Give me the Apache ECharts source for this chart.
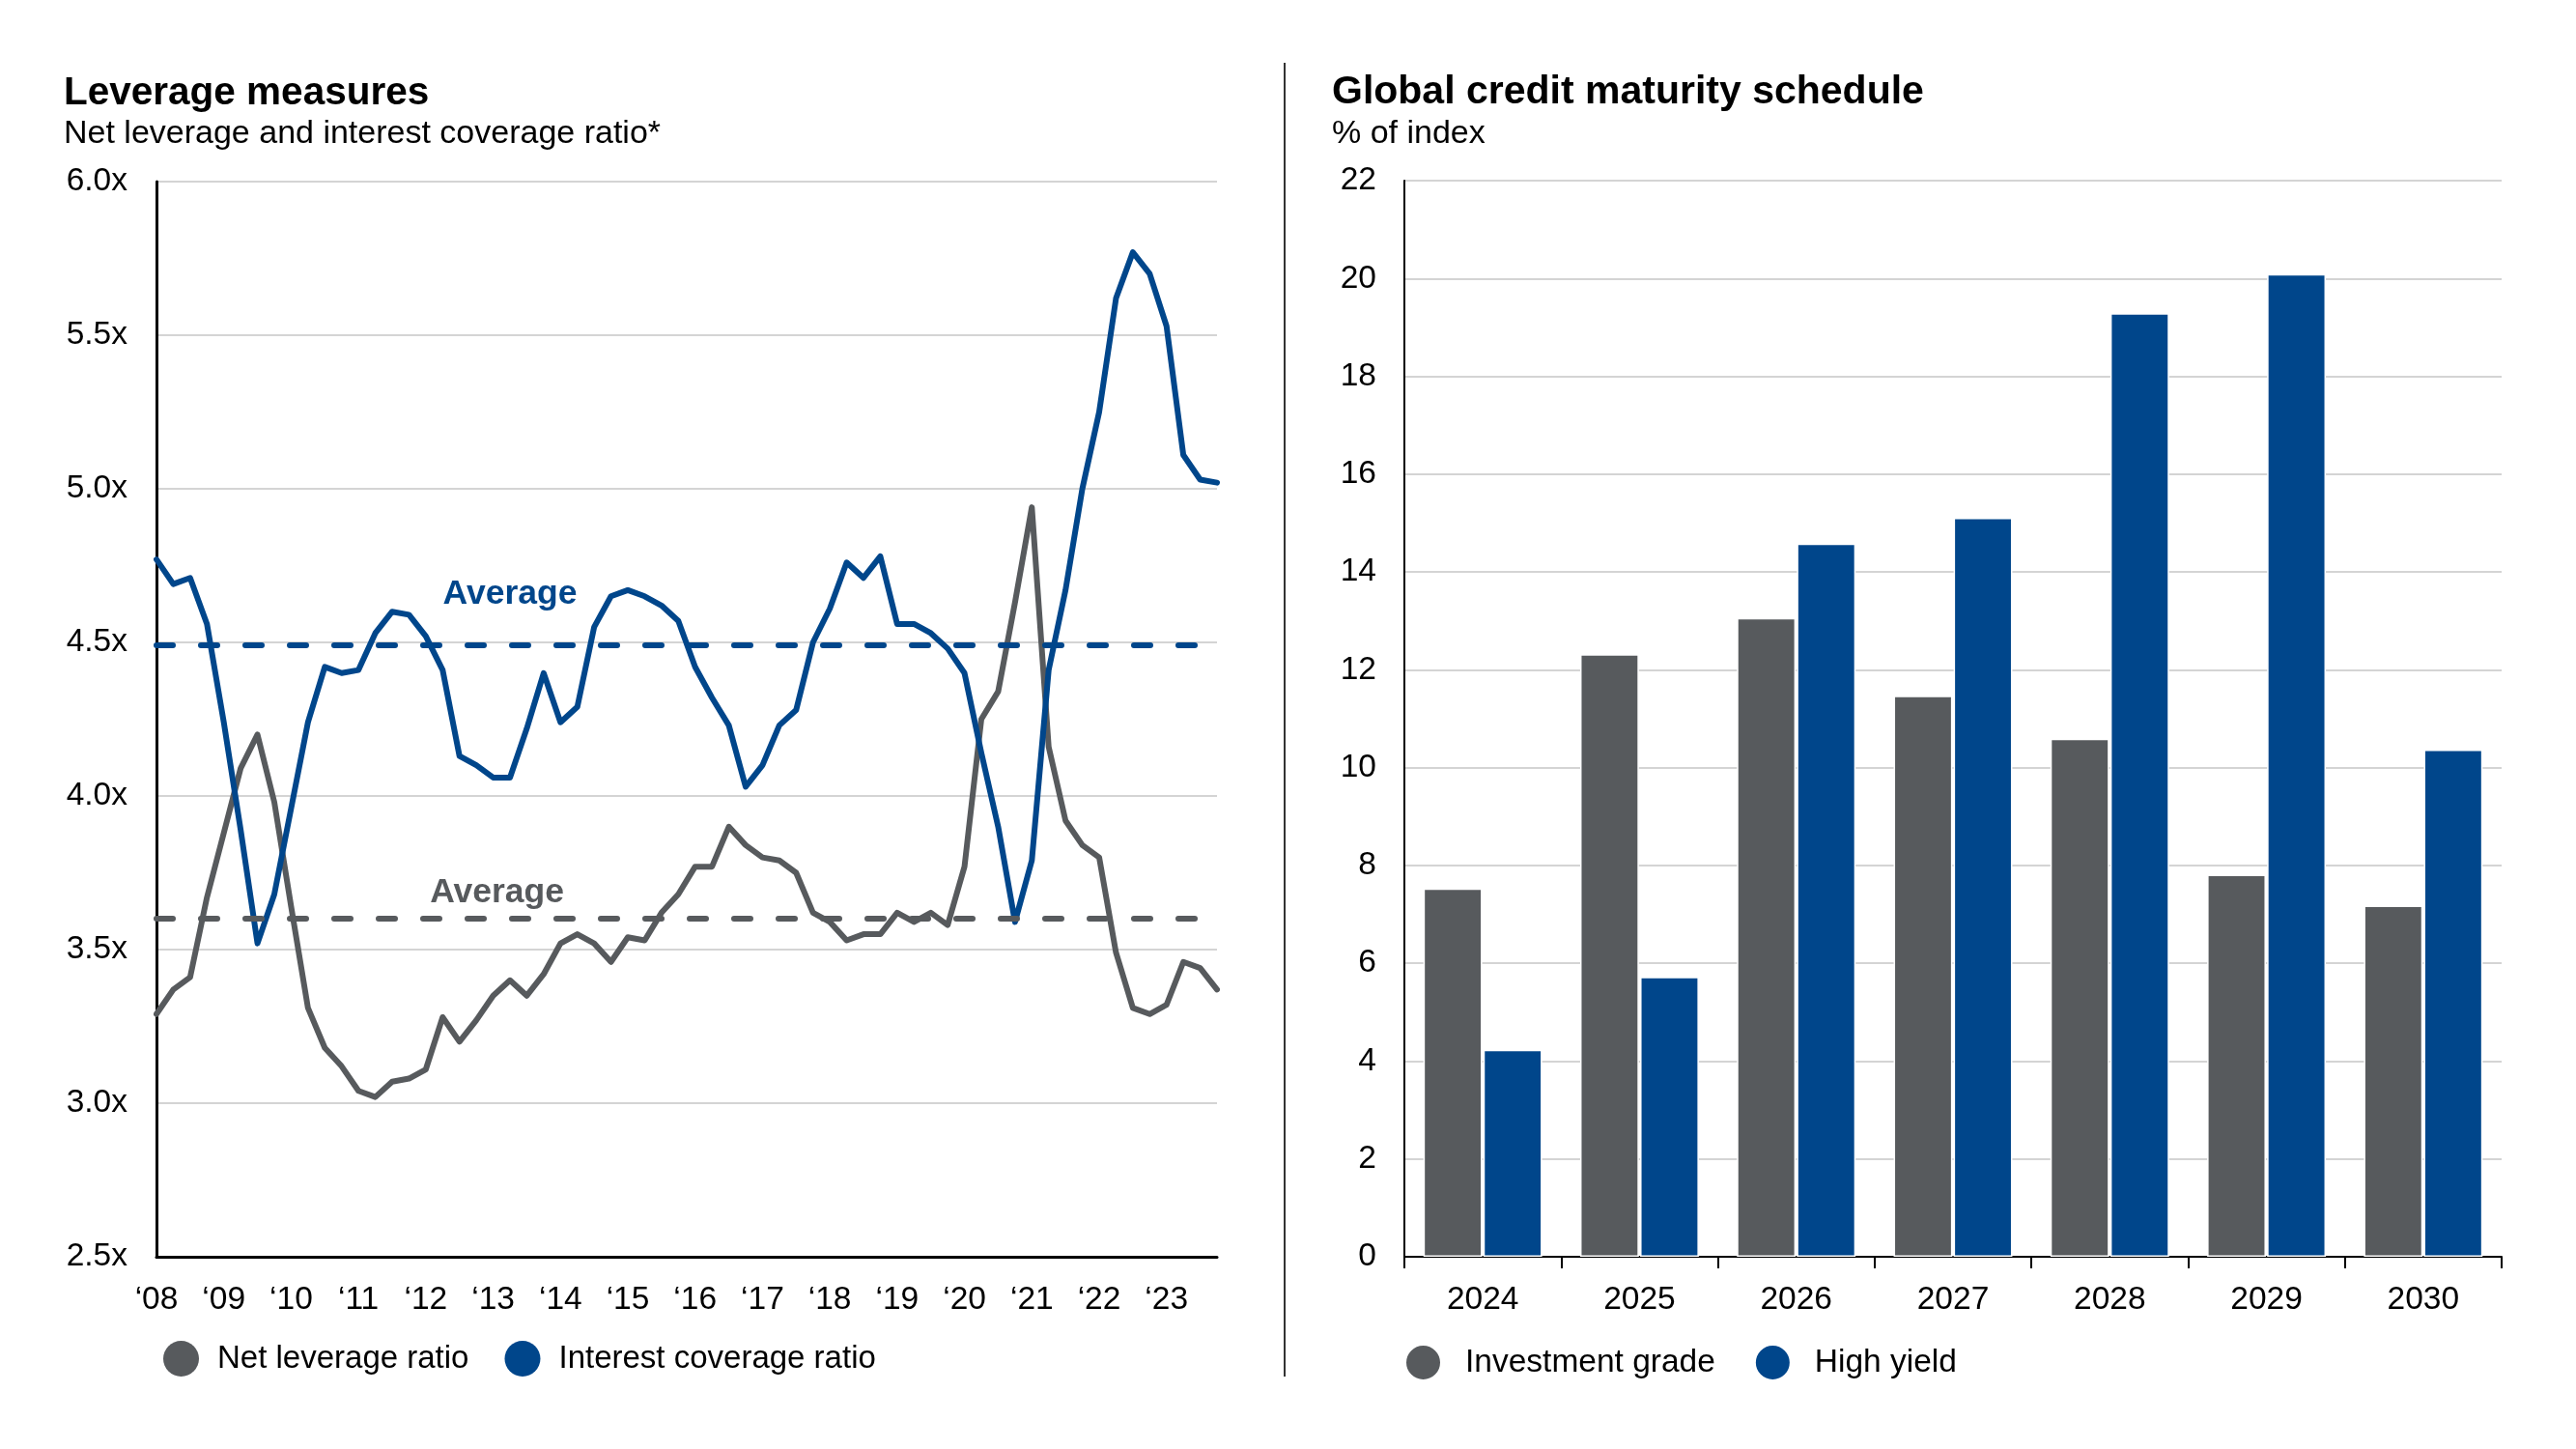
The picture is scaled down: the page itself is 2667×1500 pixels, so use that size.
<!DOCTYPE html>
<html>
<head>
<meta charset="utf-8">
<script src="https://cdn.jsdelivr.net/npm/echarts@6/dist/echarts.min.js"></script>
<style>
html,body{margin:0;padding:0;background:#fff;}
#chart{width:2667px;height:1500px;}
</style>
</head>
<body>
<div id="chart"></div>
<script>
// ---------- Data ----------
const years = [2008,2009,2010,2011,2012,2013,2014,2015,2016,2017,2018,2019,2020,2021,2022,2023];
const quarters = ['Q1','Q2','Q3','Q4'];
const yearTickLabels = ['\u201808','\u201809','\u201810','\u201811','\u201812','\u201813','\u201814','\u201815','\u201816','\u201817','\u201818','\u201819','\u201820','\u201821','\u201822','\u201823'];

const netLeverage = [
  3.29,3.37,3.41,3.67,3.88,4.09,4.20,3.98,3.64,3.31,3.18,3.12,3.04,3.02,3.07,3.08,
  3.11,3.28,3.20,3.27,3.35,3.40,3.35,3.42,3.52,3.55,3.52,3.46,3.54,3.53,3.62,3.68,
  3.77,3.77,3.90,3.84,3.80,3.79,3.75,3.62,3.59,3.53,3.55,3.55,3.62,3.59,3.62,3.58,
  3.77,4.25,4.34,4.63,4.94,4.16,3.92,3.84,3.80,3.49,3.31,3.29,3.32,3.46,3.44,3.37
];
const interestCoverage = [
  4.77,4.69,4.71,4.56,4.24,3.89,3.52,3.68,3.96,4.24,4.42,4.40,4.41,4.53,4.60,4.59,
  4.52,4.41,4.13,4.10,4.06,4.06,4.22,4.40,4.24,4.29,4.55,4.65,4.67,4.65,4.62,4.57,
  4.42,4.32,4.23,4.03,4.10,4.23,4.28,4.50,4.61,4.76,4.71,4.78,4.56,4.56,4.53,4.48,
  4.40,4.14,3.90,3.59,3.79,4.41,4.67,5.00,5.25,5.62,5.77,5.70,5.53,5.11,5.03,5.02
];
const netLeverageAverage = 3.60;
const interestCoverageAverage = 4.49;

const maturityYears = ['2024','2025','2026','2027','2028','2029','2030'];
const investmentGrade = [7.53,12.32,13.06,11.47,10.59,7.81,7.18];
const highYield = [4.23,5.72,14.58,15.11,19.29,20.09,10.37];

// ---------- Build ----------
const quarterCats = [];
years.forEach(y => quarters.forEach(q => quarterCats.push(y + ' ' + q)));

const FONT = 'Arial, "Liberation Sans", sans-serif';
const BLUE = '#00468B';
const GREY = '#575A5D';
const GRID = '#D4D4D4';

const chart = echarts.init(document.getElementById('chart'));
chart.setOption({
  animation: false,
  backgroundColor: '#fff',
  textStyle: { fontFamily: FONT },
  title: [
    { text: 'Leverage measures', left: 61, top: 71, textStyle: { fontFamily: FONT, fontSize: 40.5, fontWeight: 'bold', color: '#000' } },
    { text: 'Net leverage and interest coverage ratio*', left: 61, top: 117, textStyle: { fontFamily: FONT, fontSize: 34, fontWeight: 'normal', color: '#000' } },
    { text: 'Global credit maturity schedule', left: 1374, top: 70, textStyle: { fontFamily: FONT, fontSize: 41, fontWeight: 'bold', color: '#000' } },
    { text: '% of index', left: 1374, top: 117, textStyle: { fontFamily: FONT, fontSize: 34, fontWeight: 'normal', color: '#000' } }
  ],
  legend: [
    {
      data: ['Net leverage ratio', 'Interest coverage ratio'],
      left: 164, top: 1383, padding: 5,
      icon: 'circle', itemWidth: 37, itemHeight: 37, itemGap: 37,
      textStyle: { fontFamily: FONT, fontSize: 33, color: '#000', padding: [0,0,0,14] }
    },
    {
      data: ['Investment grade', 'High yield'],
      left: 1449, top: 1386, padding: 5,
      icon: 'circle', itemWidth: 37, itemHeight: 37, itemGap: 40,
      textStyle: { fontFamily: FONT, fontSize: 33.5, color: '#000', padding: [0,0,0,20] }
    }
  ],
  graphic: [
    { type: 'line', shape: { x1: 1330, y1: 65, x2: 1330, y2: 1425 }, style: { stroke: '#333', lineWidth: 2 } }
  ],
  grid: [
    { left: 162, right: 1407, top: 188, bottom: 199 },
    { left: 1454, right: 77, top: 187, bottom: 199 }
  ],
  xAxis: [
    {
      type: 'category', gridIndex: 0, data: quarterCats, boundaryGap: false,
      axisLine: { lineStyle: { color: '#000', width: 3 } },
      axisTick: { show: false },
      axisLabel: {
        interval: 3, margin: 28, fontSize: 33.5, color: '#000', fontFamily: FONT,
        formatter: (v, i) => yearTickLabels[Math.floor(i / 4)]
      },
      splitLine: { show: false }
    },
    {
      type: 'category', gridIndex: 1, data: maturityYears,
      axisLine: { lineStyle: { color: '#000', width: 2 } },
      axisTick: { show: true, length: 12, lineStyle: { color: '#000', width: 2 } },
      axisLabel: { margin: 28, fontSize: 33.5, color: '#000', fontFamily: FONT }
    }
  ],
  yAxis: [
    {
      type: 'value', gridIndex: 0, min: 2.5, max: 6.0, interval: 0.5,
      axisLine: { show: true, lineStyle: { color: '#000', width: 3 } },
      axisTick: { show: false },
      axisLabel: { margin: 30, fontSize: 33.5, color: '#000', fontFamily: FONT, formatter: v => v.toFixed(1) + 'x' },
      splitLine: { lineStyle: { color: GRID, width: 2 } }
    },
    {
      type: 'value', gridIndex: 1, min: 0, max: 22, interval: 2,
      axisLine: { show: true, lineStyle: { color: '#000', width: 2 } },
      axisTick: { show: false },
      axisLabel: { margin: 29, fontSize: 33.5, color: '#000', fontFamily: FONT },
      splitLine: { lineStyle: { color: GRID, width: 2 } }
    }
  ],
  series: [
    {
      name: 'Net leverage ratio', type: 'line', xAxisIndex: 0, yAxisIndex: 0,
      data: netLeverage, symbol: 'none', color: GREY,
      lineStyle: { color: GREY, width: 6, join: 'round', cap: 'round' },
      markLine: {
        silent: true, symbol: 'none',
        lineStyle: { color: GREY, width: 6, type: [17, 29], cap: 'round' },
        label: { show: false },
        data: [{ yAxis: netLeverageAverage }]
      },
      markPoint: {
        silent: true, symbol: 'circle', symbolSize: 0,
        label: { show: true, position: 'inside', formatter: 'Average', color: GREY, fontSize: 35.5, fontWeight: 'bold', fontFamily: FONT, offset: [4, 5] },
        data: [{ coord: [20, 3.70] }]
      },
      z: 3
    },
    {
      name: 'Interest coverage ratio', type: 'line', xAxisIndex: 0, yAxisIndex: 0,
      data: interestCoverage, symbol: 'none', color: BLUE,
      lineStyle: { color: BLUE, width: 6, join: 'round', cap: 'round' },
      markLine: {
        silent: true, symbol: 'none',
        lineStyle: { color: BLUE, width: 6, type: [17, 29], cap: 'round' },
        label: { show: false },
        data: [{ yAxis: interestCoverageAverage }]
      },
      markPoint: {
        silent: true, symbol: 'circle', symbolSize: 0,
        label: { show: true, position: 'inside', formatter: 'Average', color: BLUE, fontSize: 35.5, fontWeight: 'bold', fontFamily: FONT, offset: [0, 4] },
        data: [{ coord: [21, 4.67] }]
      },
      z: 4
    },
    {
      name: 'Investment grade', type: 'bar', xAxisIndex: 1, yAxisIndex: 1,
      data: investmentGrade, color: GREY, barWidth: '37.5%', barGap: '2%',
      itemStyle: { color: GREY, borderColor: '#fff', borderWidth: 1.5 }
    },
    {
      name: 'High yield', type: 'bar', xAxisIndex: 1, yAxisIndex: 1,
      data: highYield, color: BLUE, barWidth: '37.5%', barGap: '2%',
      itemStyle: { color: BLUE, borderColor: '#fff', borderWidth: 1.5 }
    }
  ]
});
</script>
</body>
</html>
